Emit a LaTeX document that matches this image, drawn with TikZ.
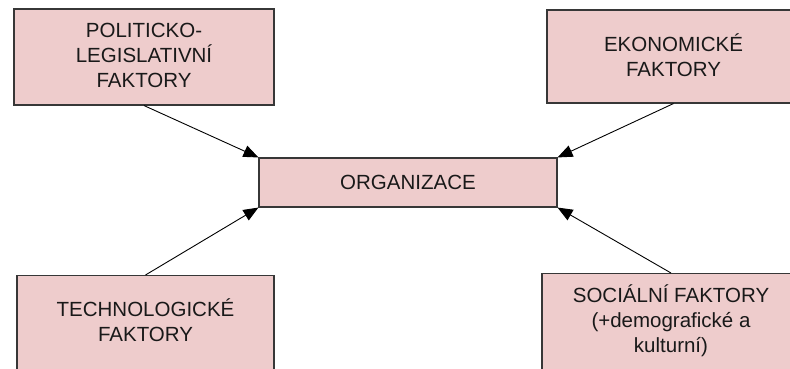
\documentclass[tikz,border=0pt]{standalone}
\usepackage{fontspec}
\setmainfont{Liberation Sans}
\usetikzlibrary{arrows.meta}
\definecolor{boxfill}{RGB}{238,204,204}
\definecolor{boxline}{RGB}{55,55,55}
\definecolor{txt}{RGB}{25,25,25}
\tikzset{
  box/.style={draw=boxline, line width=1.1pt, fill=boxfill, rectangle, inner sep=0pt},
  lbl/.style={align=center, text=txt, inner sep=0pt, font=\fontsize{20.5}{25}\selectfont},
  arr/.style={draw=black, line width=0.9pt, -{Triangle[length=15pt,width=12pt]}, shorten >=0pt}
}
\begin{document}
\begin{tikzpicture}[x=1pt,y=-1pt]
\useasboundingbox (0,0) rectangle (790,369);
\begin{scope}
\clip (0,0) rectangle (790,369);
% boxes
\node[box, minimum width=260pt, minimum height=96pt] (tl) at (144,57) {};
\node[box, minimum width=253pt, minimum height=93pt] (tr) at (673.5,56.5) {};
\node[box, minimum width=298pt, minimum height=49pt] (org) at (408,182.5) {};
\node[box, minimum width=257pt, minimum height=130pt, anchor=north] (bl) at (145.5,275) {};
\node[box, minimum width=258pt, minimum height=130pt, anchor=north] (br) at (671,273) {};
% texts
\node[lbl] (tltxt) at (144,55) {POLITICKO-\\LEGISLATIVNÍ\\FAKTORY};
\node[lbl] (trtxt) at (673.5,55) {EKONOMICKÉ\\FAKTORY};
\node[lbl] (orgtxt) at (408,182.5) {ORGANIZACE};
\node[lbl] (bltxt) at (145.5,320.5) {TECHNOLOGICKÉ\\FAKTORY};
\node[lbl] (brtxt) at (671,321) {SOCIÁLNÍ FAKTORY\\(+demografické a\\kulturní)};
% arrows
\draw[arr] (tl.south) -- (org.north west);
\draw[arr] (tr.south) -- (org.north east);
\draw[arr] (bl.north) -- (org.south west);
\draw[arr] (br.north) -- (org.south east);
\end{scope}
\end{tikzpicture}
\end{document}
